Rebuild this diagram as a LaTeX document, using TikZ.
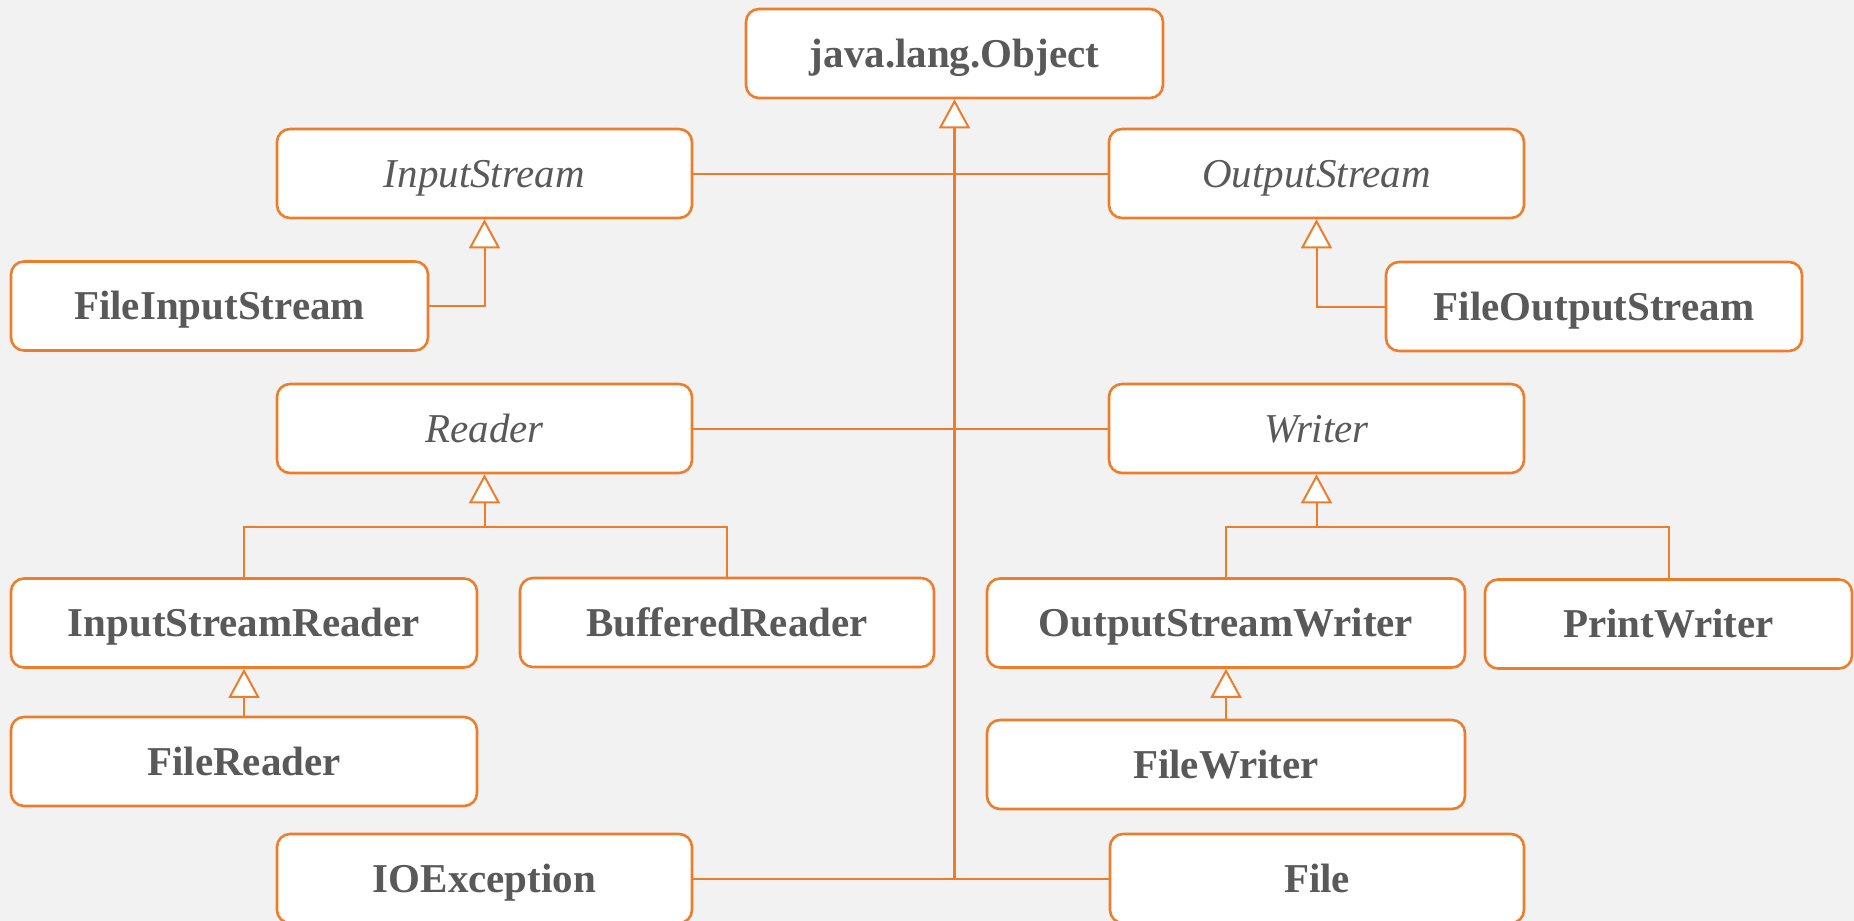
\documentclass[tikz,border=0pt]{standalone}
\usepackage{fontspec}
\setmainfont{Liberation Serif}
\usetikzlibrary{arrows.meta}
\definecolor{umlorange}{HTML}{EE7D2B}
\definecolor{umltext}{HTML}{595959}
\definecolor{umlbg}{HTML}{F2F2F2}
\tikzset{
  cls/.style={draw=umlorange, line width=1.3pt, fill=white, rounded corners=6.5pt,
    text=umltext, font=\fontsize{20.5}{23}\selectfont\bfseries,
    minimum height=44.5pt, inner sep=0pt, text height=15pt, text depth=1.5pt},
  abstractcls/.style={cls, font=\fontsize{20.5}{23}\selectfont\itshape},
  link/.style={draw=umlorange, line width=1pt},
  inherit/.style={link, -{Triangle[length=14.5pt, width=15.5pt, fill=white, line width=1pt]}},
  spine/.style={inherit, line width=1.4pt},
}
\begin{document}
\begin{tikzpicture}[x=0.5pt, y=-0.5pt]
  \fill[umlbg] (0,0) rectangle (1854,921);
  \useasboundingbox (0,0) rectangle (1854,921);

  % root
  \node[cls, minimum width=208.5pt] (obj) at (954.5,53.5) {java.lang.Object};

  % byte streams
  \node[abstractcls, minimum width=207.5pt] (is) at (484.5,173.5) {InputStream};
  \node[abstractcls, minimum width=207.5pt] (os) at (1316.5,173.5) {OutputStream};
  \node[cls, minimum width=208.5pt] (fis) at (219.5,306) {FileInputStream};
  \node[cls, minimum width=208pt] (fos) at (1594,306.5) {FileOutputStream};

  % character streams
  \node[abstractcls, minimum width=207.5pt] (rd) at (484.5,428.5) {Reader};
  \node[abstractcls, minimum width=207.5pt] (wr) at (1316.5,428.5) {Writer};
  \node[cls, minimum width=233pt] (isr) at (244,623) {InputStreamReader};
  \node[cls, minimum width=207pt] (br) at (727,622.5) {BufferedReader};
  \node[cls, minimum width=233pt] (fr) at (244,761.5) {FileReader};
  \node[cls, minimum width=239pt] (osw) at (1226,623) {OutputStreamWriter};
  \node[cls, minimum width=183.5pt] (pw) at (1668.5,624) {PrintWriter};
  \node[cls, minimum width=239pt] (fw) at (1226,764.5) {FileWriter};

  % others
  \node[cls, minimum width=207.5pt] (io) at (484.5,878.5) {IOException};
  \node[cls, minimum width=207pt] (file) at (1317,878.5) {File};

  % junction points
  \coordinate (hub) at (obj.south |- io.east);
  \coordinate (rj) at (rd.south |- 0,526.5);
  \coordinate (wj) at (wr.south |- 0,527);

  % associations sharing the central spine
  \draw[link] (is.east) -- (os.west);
  \draw[link] (rd.east) -- (wr.west);
  \draw[link] (io.east) -- (file.west);
  \draw[spine] (hub) -- (obj.south);

  % byte stream inheritance
  \draw[inherit] (fis.east) -| (is.south);
  \draw[inherit] (fos.west) -| (os.south);

  % reader inheritance
  \draw[link] (isr.north) |- (rj) -| (br.north);
  \draw[inherit] (rj) -- (rd.south);
  \draw[inherit] (fr.north) -- (isr.south);

  % writer inheritance
  \draw[link] (osw.north) |- (wj) -| (pw.north);
  \draw[inherit] (wj) -- (wr.south);
  \draw[inherit] (fw.north) -- (osw.south);
\end{tikzpicture}
\end{document}
